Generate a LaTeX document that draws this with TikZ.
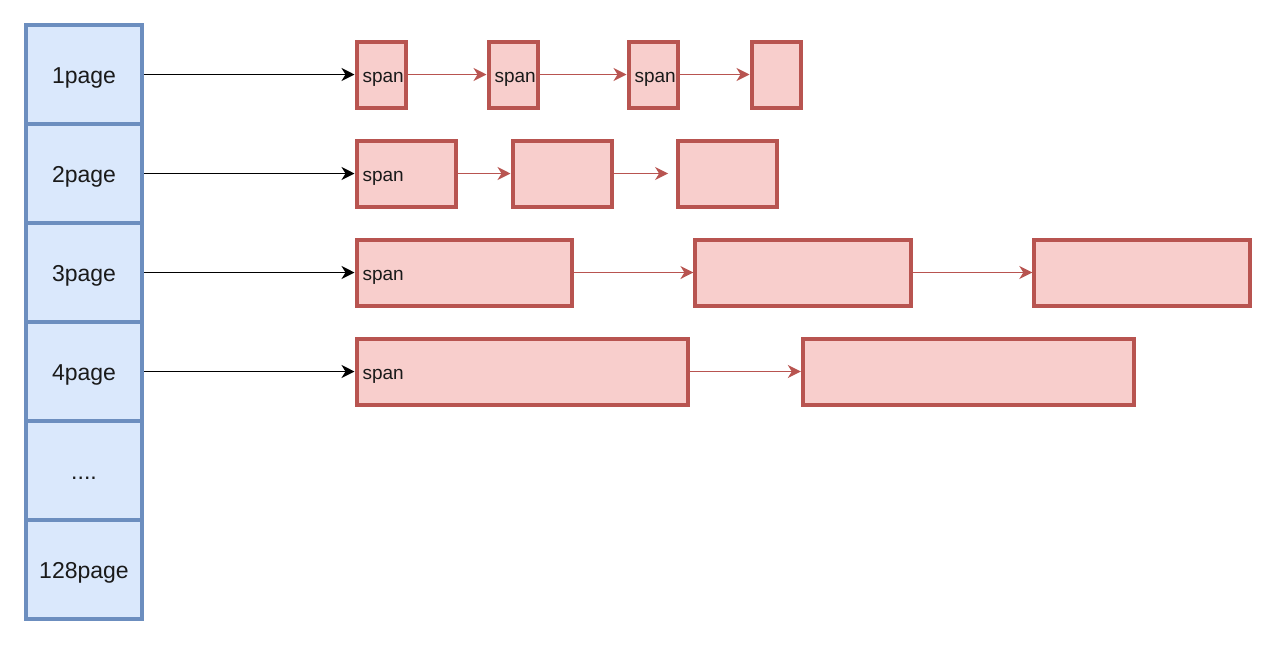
\documentclass[tikz,border=0pt]{standalone}
\usepackage{fontspec}
\setmainfont{Liberation Sans}
\usepackage{tikz}
\usetikzlibrary{arrows.meta, positioning}
\definecolor{cellfill}{HTML}{DAE8FC}
\definecolor{celldraw}{HTML}{6C8EBF}
\definecolor{spanfill}{HTML}{F8CECC}
\definecolor{spandraw}{HTML}{B85450}
\definecolor{textdark}{HTML}{1A1A1A}

\begin{document}
\begin{tikzpicture}[x=0.5pt, y=-0.5pt]
    \tikzstyle{pagecell}=[rectangle, minimum width=58pt, minimum height=49.5pt,
                          fill=cellfill, draw=celldraw, line width=2pt, text=textdark,
                          font=\fontsize{11.5}{13}\selectfont,
                          text height=9.4pt, text depth=0.6pt]
    \tikzstyle{spanbox}=[rectangle, minimum height=33pt, inner sep=0pt,
                         fill=spanfill, draw=spandraw, line width=2pt]
    \tikzstyle{spantag}=[label={[anchor=base west, inner sep=0pt, xshift=3.8pt, text=textdark,
                         yshift=-3.8pt, font=\fontsize{9.5}{11}\selectfont]west:span}]
    \tikzstyle{parr}=[-{Stealth[length=6.5pt, width=6.5pt, inset=2pt]}, black, line width=0.8pt]
    \tikzstyle{sarr}=[-{Stealth[length=6.5pt, width=6.5pt, inset=2pt]}, spandraw, line width=0.8pt]

    \useasboundingbox (0,0) rectangle (1288,644);

    % size classes
    \node[pagecell] (p1) at (84,74.5) {1page};
    \node[pagecell, below=-2pt of p1] (p2) {2page};
    \node[pagecell, below=-2pt of p2] (p3) {3page};
    \node[pagecell, below=-2pt of p3] (p4) {4page};
    \node[pagecell, below=-2pt of p4] (p5) {....};
    \node[pagecell, below=-2pt of p5] (p6) {128page};

    % span lists
    \node[spanbox, spantag, minimum width=24.5pt, right=105.25pt of p1] (s11) {};
    \node[spanbox, spantag, minimum width=24.5pt, right=39.5pt of s11] (s12) {};
    \node[spanbox, spantag, minimum width=24.5pt, right=43.5pt of s12] (s13) {};
    \node[spanbox, minimum width=24.5pt, right=35pt of s13] (s14) {};

    \node[spanbox, spantag, minimum width=49.5pt, right=105.25pt of p2] (s21) {};
    \node[spanbox, minimum width=49.5pt, right=26.5pt of s21] (s22) {};
    \node[spanbox, minimum width=49.5pt, right=31pt of s22] (s23) {};
    \coordinate[left=3.7pt of s23] (s2end);

    \node[spanbox, spantag, minimum width=107.75pt, right=105.25pt of p3] (s31) {};
    \node[spanbox, minimum width=107.75pt, right=59.7pt of s31] (s32) {};
    \node[spanbox, minimum width=107.75pt, right=59.7pt of s32] (s33) {};

    \node[spanbox, spantag, minimum width=165.5pt, right=105.25pt of p4] (s41) {};
    \node[spanbox, minimum width=165.5pt, right=55.65pt of s41] (s42) {};

    \draw[parr] (p1) -- (s11);
    \draw[parr] (p2) -- (s21);
    \draw[parr] (p3) -- (s31);
    \draw[parr] (p4) -- (s41);

    \draw[sarr] (s11) -- (s12);
    \draw[sarr] (s12) -- (s13);
    \draw[sarr] (s13) -- (s14);
    \draw[sarr] (s21) -- (s22);
    \draw[sarr] (s22) -- (s2end);
    \draw[sarr] (s31) -- (s32);
    \draw[sarr] (s32) -- (s33);
    \draw[sarr] (s41) -- (s42);
\end{tikzpicture}
\end{document}
